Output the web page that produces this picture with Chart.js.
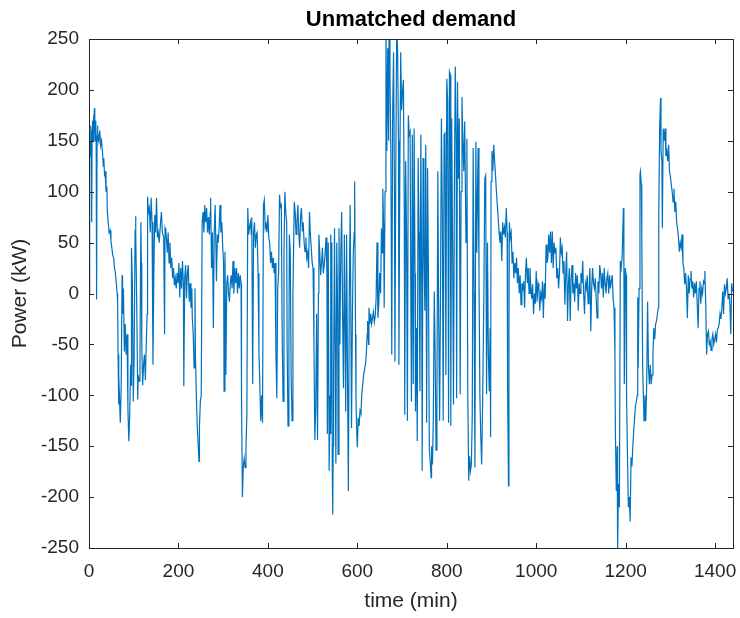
<!DOCTYPE html>
<html>
<head>
<meta charset="utf-8">
<script src="https://cdn.jsdelivr.net/npm/chart.js@4/dist/chart.umd.min.js"></script>
<style>
  html, body { margin: 0; padding: 0; background: #fff; }
  #wrap { width: 740px; height: 618px; }
</style>
</head>
<body>
<div id="wrap"><canvas id="demandChart" width="740" height="618"></canvas></div>
<script>
// [minute, kW] readings, taken off the plot in time order
const early = [
  [0,0],[1,140],[2,150],[3,135],[4,165],[5,155],[6,70],[7,160],[8,170],[9,150],[10,175],[11,160],[12,182],[13,165],[14,150],[15,170],[16,155],[17,-6],[18,150],[19,165],[20,158],[22,150],[24,160],[26,145],[28,150],[30,140],[32,125],[33,133],[35,115],[36,120],[38,100],[40,105],[41,80],[43,70],[45,60],[47,62],[49,52],[51,45],[53,38],[55,35],[57,25],[59,20],[61,10],[63,0],[64,-8],[65,-60],[66,-109],[67,-80],[68,-100],[70,-127],[72,-90],[74,18],[75,-20],[77,5],[79,-57],[81,-30],[83,-60],[85,-40],[87,-112],[89,-145],[91,-120],[93,-70],[94,-90],[95,45],[97,10],[99,-106],[101,-60],[103,60],[104,76],[105,58],[107,-20],[109,-104],[110,-80],[112,-86],[114,-60],[116,70],[117,30],[118,-50],[120,-90],[122,-70],[124,-60],[126,-85],[128,-50],[130,-20],[131,95],[133,80],[135,84],[137,60],[139,94],[141,70],[143,-70],[145,20],[147,77],[149,60],[151,94],[153,55],[155,60],[157,50],[160,70],[162,80],[164,60],[167,55],[169,-40],[170,64],[172,60],
  [173,55],[175,40],[177,60],[179,30],[181,50],[183,25],[185,35],[187,15],[189,25],[191,8],[193,15],[195,5],[197,20],[199,10],[201,30],[203,-4],[205,25],[207,5],[209,32],[211,10],[212,-91],[214,15],[216,28],[218,-5],[220,20],[222,28],[224,-8],[226,10],[228,-14],[230,5],[231,-24],[233,-40],[235,-73],[237,5],[238,-60],[240,-100],[242,-130],[244,-148],[246,-165],[247,-130],[249,-106],[251,-100],[253,70],[255,80],[257,60],[259,87],[261,70],[263,84],[265,60],[267,75],[269,58],[271,80],[272,94],[274,25],[276,60],[278,-34],[280,60],[282,87],[284,40],[285,12],[287,58],[289,50],[291,65],[293,87],[295,60],[297,70],[299,45],[301,30],[302,-96],[304,41],[306,-80],[308,9],[310,18],[312,0],[314,-8],[316,10],[318,18],[320,5],[322,32],[324,0],[326,25],[328,10],[330,25],[332,0],[334,20],[336,5],[338,18],[340,10],[341,-100],[343,-200],[345,-170],[347,-162],[349,-171],[351,-150],[353,-120],[355,84],[357,58],[359,65]
];
const morning = [
  [361,70],[363,58],[364,75],[366,-89],[368,60],[370,70],[372,45],[374,58],[376,60],[378,20],[380,-57],[382,-90],[384,-125],[386,-100],[388,-127],[390,87],[392,92],[394,64],[396,68],[398,60],[400,77],[402,55],[404,50],[406,30],[408,41],[410,25],[412,35],[414,20],[416,30],[418,-60],[420,-103],[422,5],[424,20],[426,97],[428,85],[430,87],[432,-40],[434,-106],[436,40],[438,100],[440,80],[442,70],[443,-50],[445,-130],[447,-60],[448,58],[450,41],[452,-80],[454,-125],[456,0],[459,90],[461,80],[463,58],[465,70],[467,87],[469,60],[471,45],[473,75],[475,84],[477,61],[479,70],[481,50],[483,41],[485,55],[487,35],[489,40],[491,25],[493,80],[495,58],[497,45],[499,30],[501,25],[503,-50],[505,-144],[507,-112],[509,-20],[511,-144],[513,0],[514,58],[516,40],[518,18],[520,30],[522,45],[524,20],[526,28],[528,40],[530,55],[532,20],[533,-138],[535,50],[537,-174],[539,-100],
  [540,58],[541,-138],[543,50],[544,-174],[545,-217],[546,-150],[547,-73],[549,64],[551,-100],[552,-167],[554,50],[556,-20],[557,-158],[559,64],[561,-50],[563,40],[565,80],[567,-20],[569,-93],[571,58],[573,-60],[574,-116],[576,58],[578,-80],[580,-194],[582,0],[584,87],[586,-60],[587,-132],[589,-20],[591,41],[593,60],[594,110],[596,-40],[597,-106],[599,-140],[600,-151],[602,-122],[604,-130],[606,-115],[608,-118],[610,-99],[612,-90],[614,-80],[616,-75],[618,-70],[620,-60],[622,-40],[623,-27],[625,-50],[626,-14],[628,-30],[630,-20],[632,-30],[634,-24],[636,-18],[638,-28],[640,-22],[642,-5],[644,50],[646,-24],[648,-10],[650,20],[652,0],[654,64],[656,40],[657,103],[659,60],[660,-14],[662,100]
];
const midday = [
  [664,262],[666,140],[668,241],[670,150],[671,262],[673,214],[675,140],[677,-60],[679,180],[681,237],[683,100],[684,-67],[686,120],[688,262],[690,240],[692,150],[693,-70],[695,120],[697,237],[699,180],[701,198],[703,210],[705,80],[706,-119],[708,130],[710,60],[712,-125],[714,175],[716,156],[718,159],
  [720,-40],[721,-106],[723,156],[725,-89],[727,162],[729,20],[730,-116],[732,-34],[734,-145],[736,133],[738,60],[740,-96],[742,156],[744,0],[745,-174],[747,133],[749,40],[751,-17],[753,146],[755,-127],[757,123],[759,20],[761,-154],[763,-165],[765,-181],[766,-150],[768,-168],[770,-120],[772,2],[774,-60],[776,-154],[778,-100],[780,120],[782,-30],[784,-125],[786,0],[788,172],[790,80],[792,-125],[794,156],[796,159],[798,-80],[800,211],[802,190],[804,-127],[806,218],[808,215],[809,-130],[811,172],[813,50],[815,-109],[817,100],[819,223],[821,150],[822,-103],[824,208],[826,113],[828,172],[830,-99],[832,100],[834,193],[836,150],[838,120],[840,169],[843,50],[845,152],[847,-100],[849,-184],[851,-160],[853,-174],[855,-168],[857,-120],[859,143],[861,0],[863,-171],[865,149],[867,40],[870,143],[872,20],[874,-99],[876,-140],[878,-168],[880,-112],[883,0],[885,113],[887,116],[889,-99],[891,50],[893,-60],[895,-96],[897,-34],[898,-141]
];
const afternoon = [
  [899,110],[901,140],[903,120],[905,146],[907,130],[909,116],[911,100],[913,87],[915,74],[917,60],[919,50],[921,61],[923,32],[925,70],[927,58],[929,65],[931,55],[933,84],[935,60],[936,-93],[938,-189],[939,-40],[940,70],[942,55],[944,60],[946,30],[948,41],[950,15],[952,30],[954,20],[956,35],[958,10],[960,25],[962,0],[964,18],[966,-11],[968,10],[970,5],[972,12],[974,-14],[976,20],[978,35],[980,10],[982,25],[984,0],[986,25],[988,5],[990,-5],[992,9],[994,-20],[996,0],[998,-10],[1000,22],[1002,-8],[1004,10],[1006,5],[1008,-17],[1010,0],[1012,-5],[1014,12],[1016,-24],[1018,10],[1020,-5],[1022,48],[1024,30],[1026,35],[1028,58],[1030,40],[1032,61],[1034,30],[1036,61],[1038,25],[1040,50],[1042,40],[1044,45],[1046,15],[1048,25],[1050,5],[1052,20],[1054,55],[1056,40],[1058,45],[1060,20],[1062,32],[1064,-11],[1066,20],[1068,41],[1070,-27],[1072,10],[1074,25],
  [1076,-27],[1078,15],[1080,28],[1082,0],[1084,10],[1086,-8],[1088,20],[1090,5],[1092,18],[1094,-17],[1096,10],[1098,0],[1100,20],[1102,10],[1104,32],[1106,0],[1108,-20],[1110,10],[1112,5],[1114,18],[1116,-10],[1118,0],[1120,25],[1122,-37],[1124,5],[1126,25],[1128,10],[1130,5],[1132,15],[1134,-5],[1136,-24],[1138,12],[1140,0],[1142,28],[1144,20],[1146,5],[1148,20],[1150,-4],[1152,25],[1154,10],[1156,0],[1158,15],[1160,20],[1162,0],[1164,18],[1166,5],[1168,12],[1170,18],[1172,-5],[1174,-14]
];
const evening = [
  [1176,-60],[1177,-135],[1179,-194],[1181,-150],[1182,-252],[1184,-187],[1186,-210],[1188,32],[1190,25],[1192,35],[1195,84],[1196,30],[1197,-89],[1199,25],[1201,18],[1202,-100],[1204,-158],[1206,-210],[1208,-200],[1210,-224],[1212,-161],[1214,-170],[1216,-150],[1218,-135],[1220,-122],[1222,-110],[1224,-106],[1226,-100],[1227,-4],[1228,-73],[1230,5],[1232,117],[1233,120],[1235,107],[1236,58],[1238,-73],[1241,-125],[1243,-100],
  [1245,-125],[1247,-90],[1249,-8],[1251,-73],[1253,-89],[1255,-70],[1257,-89],[1259,-80],[1261,-60],[1263,-34],[1265,-45],[1267,-30],[1269,-27],[1271,-20],[1273,-14],[1274,77],[1276,162],[1278,192],[1279,140],[1281,130],[1282,64],[1284,162],[1286,150],[1288,162],[1290,135],[1292,140],[1294,130],[1296,146],[1298,120],[1300,115],[1302,107],[1304,100],[1306,90],[1308,103],[1310,80],[1312,90],[1314,70],[1316,64],[1318,55],[1320,41],[1322,50],[1324,45],[1326,58],[1328,30],[1330,25],[1332,9],[1334,20],[1336,5],[1338,-24],[1340,18],[1342,0],[1344,15],[1346,22],[1348,5],[1350,12],[1352,-4],[1354,10],[1356,0],[1358,12],[1360,-10],[1362,-34],[1364,5],[1366,12],[1368,-10],[1370,5],[1372,0],[1374,12],[1376,10],[1377,22],[1379,-10],[1381,-60],[1383,-40],[1385,-37],[1387,-50],[1389,-47],[1391,-56],[1393,-45],[1395,-40],[1397,-50],[1399,-45],[1401,-40],[1403,-48],[1405,-35],[1407,-34],[1409,-30],[1411,-20],[1413,-25],[1415,-15],[1417,2],[1419,-20],[1421,9],[1423,0],[1425,5],[1427,15],[1429,-5],[1431,0],[1433,-10],[1435,-40],[1437,10],[1439,2]
];

const xTicks = [0, 200, 400, 600, 800, 1000, 1200, 1400];
const yTicks = [-250, -200, -150, -100, -50, 0, 50, 100, 150, 200, 250];

const axisColor = '#262626';
const readings = early.concat(morning, midday, afternoon, evening);

// matlab-ish box with inward ticks on all four sides, plus the title
const boxPlugin = {
  id: 'matlabBox',
  afterDraw(chart) {
    const { ctx, chartArea: a, scales } = chart;
    const len = 5;
    ctx.save();
    ctx.strokeStyle = axisColor;
    ctx.lineWidth = 1;
    ctx.beginPath();
    xTicks.forEach(v => {
      const px = Math.round(scales.x.getPixelForValue(v)) + 0.5;
      ctx.moveTo(px, a.bottom); ctx.lineTo(px, a.bottom - len);
      ctx.moveTo(px, a.top); ctx.lineTo(px, a.top + len);
    });
    yTicks.forEach(v => {
      const py = Math.round(scales.y.getPixelForValue(v)) + 0.5;
      ctx.moveTo(a.left, py); ctx.lineTo(a.left + len, py);
      ctx.moveTo(a.right, py); ctx.lineTo(a.right - len, py);
    });
    ctx.stroke();
    ctx.strokeRect(Math.round(a.left) + 0.5, Math.round(a.top) + 0.5,
      Math.round(a.right - a.left), Math.round(a.bottom - a.top));

    ctx.fillStyle = '#000';
    ctx.font = 'bold 22px "Liberation Sans", Arial, sans-serif';
    ctx.textAlign = 'center';
    ctx.textBaseline = 'middle';
    ctx.fillText('Unmatched demand', (a.left + a.right) / 2, 20);
    ctx.restore();
  }
};

const tickFont = { family: '"Liberation Sans", Arial, sans-serif', size: 19 };
const labelFont = { family: '"Liberation Sans", Arial, sans-serif', size: 21 };

new Chart(document.getElementById('demandChart').getContext('2d'), {
  type: 'line',
  data: {
    datasets: [{
      label: 'Unmatched demand',
      data: readings.map(r => ({ x: r[0], y: r[1] })),
      borderColor: '#0072BD',
      borderWidth: 1.2,
      pointRadius: 0,
      tension: 0,
      fill: false
    }]
  },
  options: {
    responsive: false,
    animation: false,
    layout: { padding: { top: 39, right: 7, bottom: 0, left: 0 } },
    plugins: {
      legend: { display: false },
      tooltip: { enabled: false },
      title: { display: false }
    },
    scales: {
      x: {
        type: 'linear',
        min: 0,
        max: 1440,
        grid: { display: false, drawTicks: false },
        border: { display: false },
        afterBuildTicks: s => { s.ticks = xTicks.map(v => ({ value: v })); },
        afterFit: s => { s.height = 70; s.paddingLeft = 0; s.paddingRight = 0; },
        ticks: { color: axisColor, font: tickFont, padding: 12, maxRotation: 0, callback: v => String(v) },
        title: { display: true, text: 'time (min)', color: axisColor, font: labelFont, padding: { top: 0, bottom: 4 } }
      },
      y: {
        min: -250,
        max: 250,
        grid: { display: false, drawTicks: false },
        border: { display: false },
        afterBuildTicks: s => { s.ticks = yTicks.map(v => ({ value: v })); },
        afterFit: s => { s.width = 89; s.paddingTop = 0; s.paddingBottom = 0; },
        ticks: { color: axisColor, font: tickFont, padding: 10, callback: v => String(v) },
        title: { display: true, text: 'Power (kW)', color: axisColor, font: labelFont, padding: { top: 8, bottom: 0 } }
      }
    }
  },
  plugins: [boxPlugin]
});
</script>
</body>
</html>
